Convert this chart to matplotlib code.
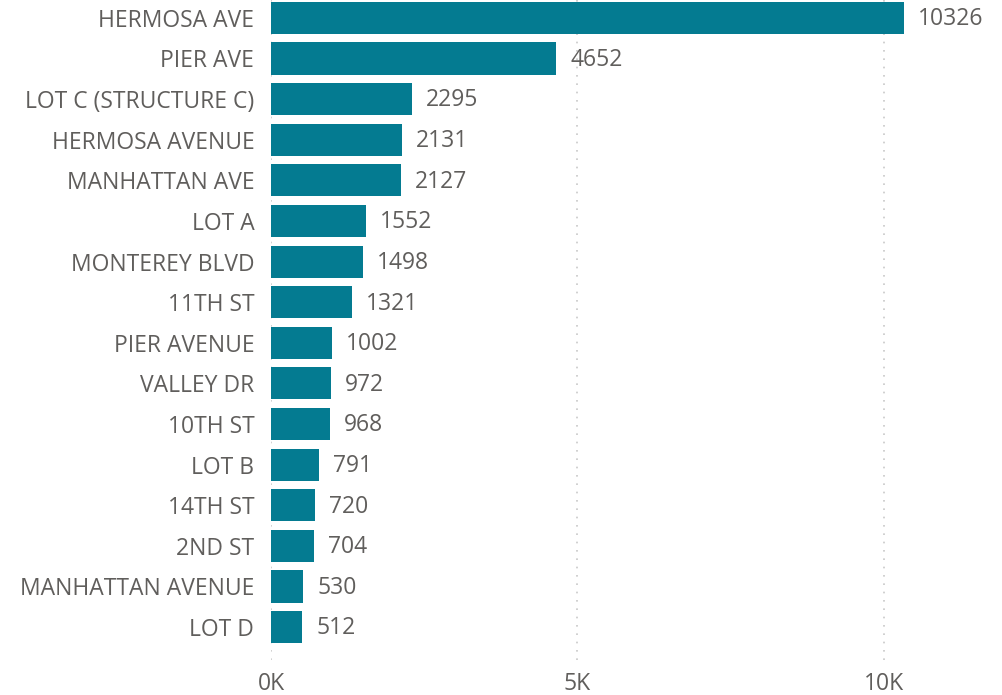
import matplotlib
matplotlib.use("Agg")
from matplotlib import pyplot as plt

# street / lot names and their counts, top to bottom
STREETS = ["HERMOSA AVE", "PIER AVE", "LOT C (STRUCTURE C)", "HERMOSA AVENUE",
           "MANHATTAN AVE", "LOT A", "MONTEREY BLVD", "11TH ST", "PIER AVENUE",
           "VALLEY DR", "10TH ST", "LOT B", "14TH ST", "2ND ST",
           "MANHATTAN AVENUE", "LOT D"]
COUNTS = [10326, 4652, 2295, 2131, 2127, 1552, 1498, 1321, 1002,
          972, 968, 791, 720, 704, 530, 512]
X_TICKS = [0, 5000, 10000]
X_TICK_LABELS = ["0K", "5K", "10K"]

BAR_COLOR = "#047B91"
TEXT_COLOR = "#605E5C"

plt.rcParams['font.family'] = ['Open Sans', 'DejaVu Sans']

fig = plt.figure(figsize=(10.02, 6.95), dpi=100)
ax = fig.add_axes([271/1002, 35/695, 731/1002, 660/695])

ypos = list(range(len(STREETS)))
ax.barh(ypos, COUNTS, height=0.79, color=BAR_COLOR, zorder=2)

for y, v in zip(ypos, COUNTS):
  ax.annotate(str(v), (v, y), xytext=(10, -1), textcoords='offset points',
              va='center', ha='left', fontsize=16.5, color=TEXT_COLOR)

ax.set_ylim(15.81, -0.44)
ax.set_xlim(0, 11925)

ax.set_yticks(ypos)
ax.set_yticklabels(STREETS, fontsize=16.5, color=TEXT_COLOR)
ax.set_xticks(X_TICKS)
ax.set_xticklabels(X_TICK_LABELS, fontsize=16.5, color=TEXT_COLOR)
ax.tick_params(axis='both', length=0)
ax.tick_params(axis='y', pad=12)
ax.tick_params(axis='x', pad=9)

ax.grid(axis='x', linestyle=(0, (1, 4)), color='#C8C8C8', linewidth=1.2, zorder=0)
for s in ax.spines.values():
  s.set_visible(False)

fig.savefig("out.png", dpi=100)
